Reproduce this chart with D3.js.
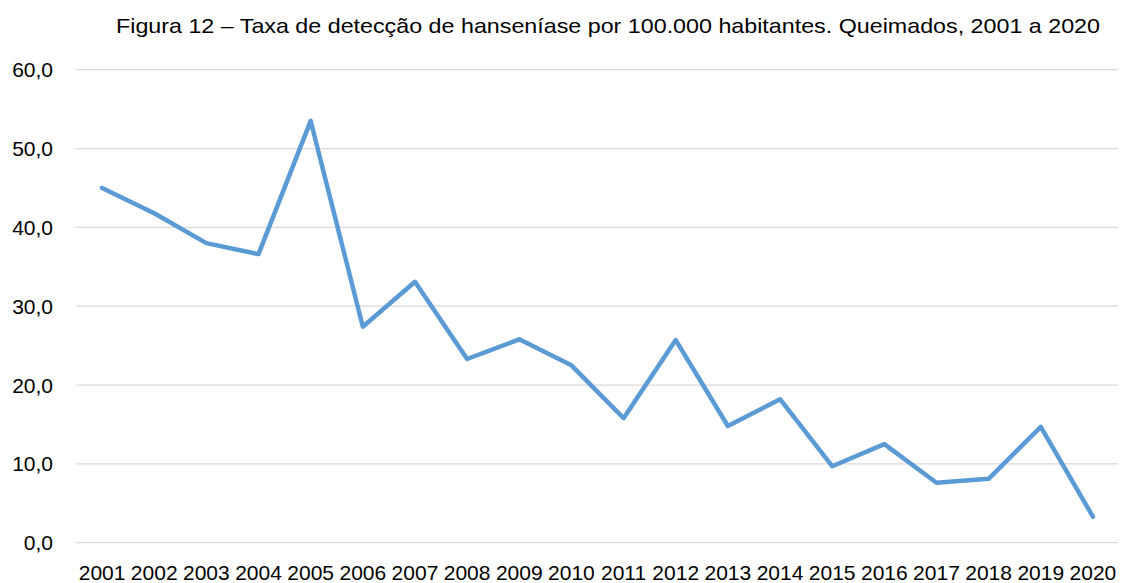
<!DOCTYPE html>
<meta charset="utf-8">
<html>
<head>
  <script src="https://d3js.org/d3.v7.min.js"></script>
  <style>
    body { margin: 0; background: #fff; font-family: "Liberation Sans", Arial, sans-serif; }
    .grid line { stroke: #d9d9d9; stroke-width: 1.3; }
    .label { fill: #000; font-size: 21px; }
  </style>
</head>
<body>
<script>
  // data
  var years = ["2001", "2002", "2003", "2004", "2005", "2006", "2007", "2008", "2009", "2010",
    "2011", "2012", "2013", "2014", "2015", "2016", "2017", "2018", "2019", "2020"];
  var taxa = [45.0, 41.8, 38.0, 36.6, 53.5, 27.4, 33.1, 23.3, 25.8, 22.5,
    15.8, 25.7, 14.8, 18.2, 9.7, 12.5, 7.6, 8.1, 14.7, 3.3];
  var yTicks = [0, 10, 20, 30, 40, 50, 60];
  var title = "Figura 12 – Taxa de detecção de hanseníase por 100.000 habitantes. Queimados, 2001 a 2020";

  var width = 1121, height = 583;

  var svg = d3.select("body").append("svg")
    .attr("width", width)
    .attr("height", height);

  var x = d3.scaleBand().domain(years).range([76, 1119]);
  var y = d3.scaleLinear().domain([0, 60]).range([542.7, 69.7]);

  // title
  svg.append("text")
    .attr("class", "label")
    .attr("x", 608)
    .attr("y", 33)
    .attr("text-anchor", "middle")
    .attr("textLength", 984)
    .attr("lengthAdjust", "spacingAndGlyphs")
    .style("font-size", "21px")
    .text(title);

  // gridlines
  svg.append("g")
    .attr("class", "grid")
    .selectAll("line")
    .data(yTicks)
    .enter().append("line")
    .attr("x1", 76)
    .attr("x2", 1118)
    .attr("y1", function (d) { return y(d); })
    .attr("y2", function (d) { return y(d); });

  // y labels
  var fmt = function (d) { return d3.format(".1f")(d).replace(".", ","); };
  svg.append("g")
    .selectAll("text")
    .data(yTicks)
    .enter().append("text")
    .attr("class", "label")
    .attr("x", 53)
    .attr("y", function (d) { return y(d) + 7.5; })
    .attr("text-anchor", "end")
    .text(fmt);

  // x labels
  svg.append("g")
    .selectAll("text")
    .data(years)
    .enter().append("text")
    .attr("class", "label")
    .attr("x", function (d) { return x(d) + x.bandwidth() / 2; })
    .attr("y", 580)
    .attr("text-anchor", "middle")
    .text(function (d) { return d; });

  // line
  var line = d3.line()
    .x(function (d, i) { return x(years[i]) + x.bandwidth() / 2; })
    .y(function (d) { return y(d); });

  svg.append("path")
    .datum(taxa)
    .attr("d", line)
    .attr("fill", "none")
    .attr("stroke", "#5b9bd5")
    .attr("stroke-width", 4.5)
    .attr("stroke-linejoin", "round")
    .attr("stroke-linecap", "round");
</script>
</body>
</html>
